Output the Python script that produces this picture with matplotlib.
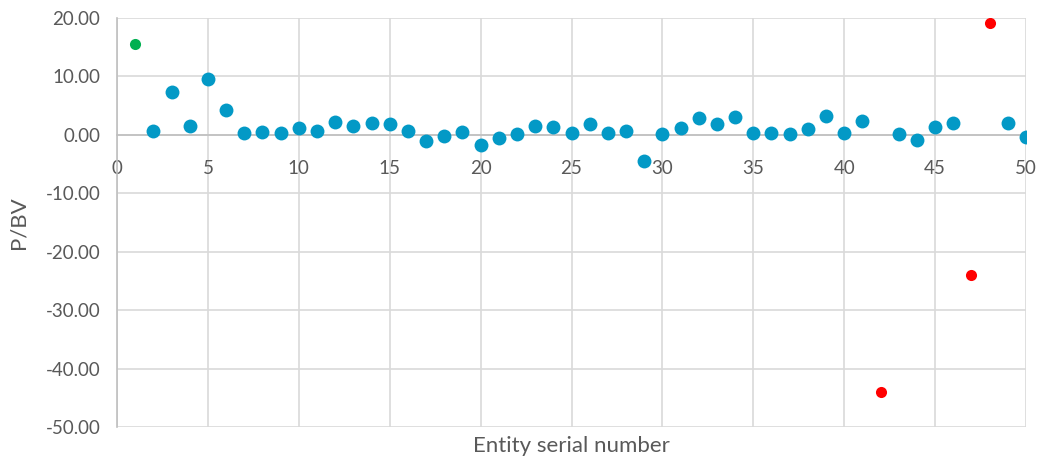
import matplotlib.pyplot as plt
import numpy as np

plt.rcParams['font.family'] = ['Lato', 'DejaVu Sans']

serial = list(range(1, 51))
pbv = [15.5, 0.7, 7.4, 1.6, 9.5, 4.3, 0.4, 0.5, 0.4, 1.1,
       0.6, 2.2, 1.6, 2.1, 1.8, 0.7, -1.0, -0.2, 0.5, -1.8,
       -0.6, 0.2, 1.5, 1.4, 0.3, 1.9, 0.3, 0.7, -4.5, 0.2,
       1.1, 2.8, 1.8, 3.0, 0.3, 0.4, 0.1, 1.0, 3.2, 0.3,
       2.3, -44.0, 0.2, -0.9, 1.4, 2.1, -24.0, 19.1, 2.1, -0.3]
green_ids = [1]
red_ids = [42, 47, 48]

serial = np.array(serial)
pbv = np.array(pbv)
is_green = np.isin(serial, green_ids)
is_red = np.isin(serial, red_ids)
is_blue = ~(is_green | is_red)

fig = plt.figure(figsize=(10.39, 4.59), dpi=100)
ax = fig.add_axes([0.1126, 0.0697, 0.8749, 0.8911])

ax.scatter(serial[is_blue], pbv[is_blue], s=100, color='#0399C6', zorder=3, linewidths=0)
ax.scatter(serial[is_green], pbv[is_green], s=64, color='#00B050', zorder=3, linewidths=0)
ax.scatter(serial[is_red], pbv[is_red], s=64, color='#FF0000', zorder=3, linewidths=0)

ax.set_xlim(0, 50)
ax.set_ylim(-50, 20)
ax.set_xticks(range(0, 51, 5))
ax.set_yticks(range(-50, 21, 10))
ax.set_yticklabels([f"{v:.2f}" for v in range(-50, 21, 10)])
ax.grid(True, color='#D9D9D9', linewidth=1.2)
ax.set_axisbelow(True)

for s in ['top', 'right']:
    ax.spines[s].set_visible(False)
ax.spines['left'].set_color('#BFBFBF')
ax.spines['bottom'].set_color('#BFBFBF')
ax.spines['bottom'].set_position(('data', 0))
ax.spines['left'].set_linewidth(1.2)
ax.spines['bottom'].set_linewidth(1.2)
ax.tick_params(length=0, labelsize=13.5, labelcolor='#595959')
ax.tick_params(axis='y', pad=12)
ax.tick_params(axis='x', pad=18)

ax.set_xlabel("Entity serial number", fontsize=16, color='#595959')
ax.xaxis.set_label_coords(0.5, -0.022)
ax.set_ylabel("P/BV", fontsize=16, color='#595959')
ax.yaxis.set_label_coords(-0.097, 0.5)

plt.savefig("out.png", dpi=100)
